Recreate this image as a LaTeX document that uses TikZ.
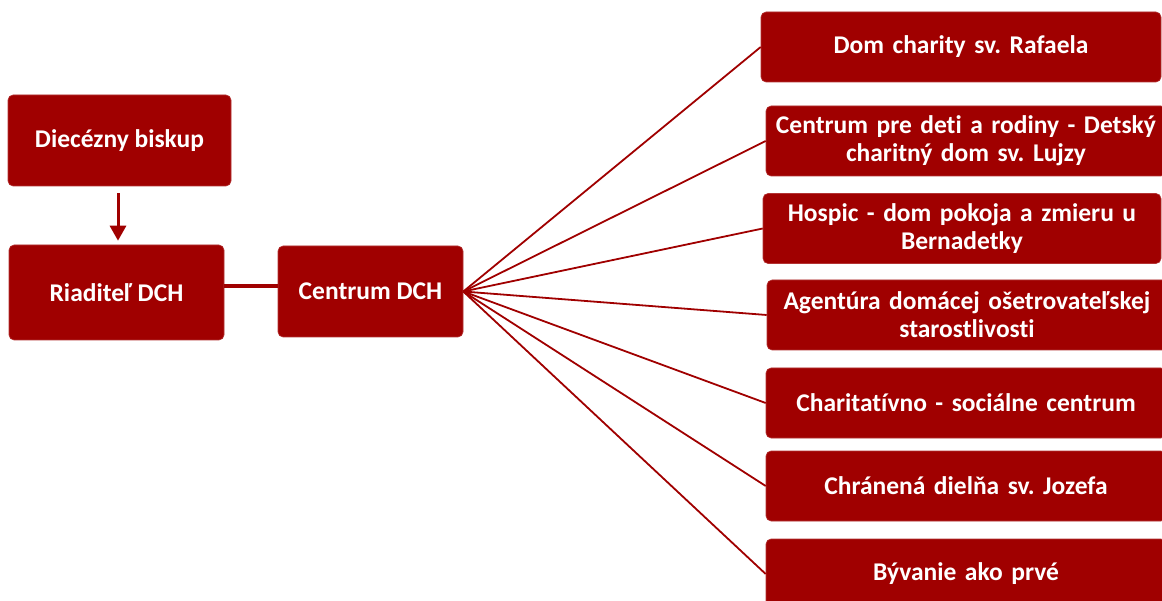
\documentclass[tikz,border=0pt]{standalone}
\usepackage{fontspec}
\setmainfont{Carlito}[Ligatures=NoCommon]
\usetikzlibrary{arrows.meta}
\definecolor{dchred}{RGB}{160,0,0}
\frenchspacing
\tikzset{
  box/.style={draw=dchred!80!white, line width=0.6pt, fill=dchred, rounded corners=5pt, text=white,
    font=\fontsize{25.5}{28}\selectfont\bfseries, align=center, inner sep=0pt},
  rbox/.style={box, minimum width=400pt, minimum height=70pt, text width=396pt},
  fan/.style={draw=dchred, line width=1.8pt},
}
\begin{document}
\begin{tikzpicture}[x=1pt,y=-1pt]
\useasboundingbox (0,0) rectangle (1162,601);
\node[box, minimum width=223pt, minimum height=91pt] (bishop) at (119.5,140.5) {Diecézny biskup};
\node[box, minimum width=215pt, minimum height=95pt] (riad) at (116.5,292.5) {Riaditeľ DCH};
\node[box, minimum width=185pt, minimum height=91pt] (centrum) at (370.5,291.5) {Centrum DCH};
\node[rbox] (r1) at (961,47) {Dom charity sv. Rafaela};
\node[rbox] (r2) at (966,141) {Centrum pre deti a rodiny - Detský\\charitný dom sv. Lujzy};
\node[rbox, minimum width=398pt] (r3) at (962,228.5) {Hospic - dom pokoja a zmieru u\\Bernadetky};
\node[rbox] (r4) at (967,315) {Agentúra domácej ošetrovateľskej\\starostlivosti};
\node[rbox] (r5) at (966,403) {Charitatívno - sociálne centrum};
\node[rbox] (r6) at (966,486) {Chránená dielňa sv. Jozefa};
\node[rbox] (r7) at (966,574) {Bývanie ako prvé};
\draw[draw=dchred, line width=3pt, -{Triangle[width=16pt,length=15pt]}, shorten <=7pt, shorten >=4pt]
  ([xshift=-1.5pt]bishop.south) -- ([xshift=1.5pt]riad.north);
\draw[draw=dchred, line width=3.5pt] ([yshift=6.5pt]riad.east) -- ([yshift=5.5pt]centrum.west);
\foreach \n in {r1,r2,r3,r4,r5,r6,r7}{
  \draw[fan] (centrum.east) -- (\n.west);
}
\end{tikzpicture}
\end{document}
